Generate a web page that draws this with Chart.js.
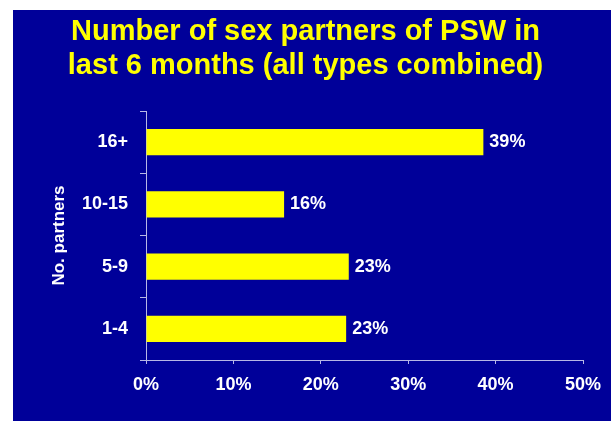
<!DOCTYPE html>
<html>
<head>
<meta charset="utf-8">
<script src="https://cdn.jsdelivr.net/npm/chart.js@4"></script>
<style>
  html, body { margin: 0; padding: 0; background: #ffffff; }
  #wrap { width: 611px; height: 421px; }
</style>
</head>
<body>
<div id="wrap"><canvas id="graphBarPartners" width="611" height="421"></canvas></div>
<script>
const categories = ['16+', '10-15', '5-9', '1-4'];
const shares = [38.6, 15.8, 23.2, 22.9];
const shareLabels = ['39%', '16%', '23%', '23%'];
const xTicks = [0, 10, 20, 30, 40, 50];
const titleLines = ['Number of sex partners of PSW in', 'last 6 months (all types combined)'];

const fontFamily = '"Liberation Sans", Arial, sans-serif';
const axisColor = '#b8b8e6';

// blue slide background
const slideBg = {
  id: 'slideBg',
  beforeDraw: chart => {
    const c = chart.ctx;
    c.save();
    c.fillStyle = '#000099';
    c.fillRect(13, 10, chart.width - 13, chart.height - 10);
    c.restore();
  }
};

// value labels right of each bar
const barValues = {
  id: 'barValues',
  afterDatasetsDraw: chart => {
    const c = chart.ctx;
    const meta = chart.getDatasetMeta(0);
    c.save();
    c.fillStyle = '#ffffff';
    c.font = `bold 18px ${fontFamily}`;
    c.textAlign = 'left';
    c.textBaseline = 'middle';
    meta.data.forEach((bar, i) => {
      c.fillText(shareLabels[i], bar.x + 6, bar.y);
    });
    c.restore();
  }
};

const ctx = document.getElementById('graphBarPartners');
let config = {
  type: 'bar',
  data: {
    labels: categories,
    datasets: [{
      label: 'Share',
      data: shares,
      backgroundColor: '#ffff00',
      borderWidth: 0,
      barPercentage: 0.42,
      categoryPercentage: 1
    }]
  },
  options: {
    indexAxis: 'y',
    responsive: false,
    animation: false,
    devicePixelRatio: 1,
    layout: {
      padding: { top: 10, left: 13, right: 13, bottom: 0 }
    },
    plugins: {
      legend: { display: false },
      tooltip: { enabled: false },
      title: {
        display: true,
        text: titleLines,
        color: '#ffff00',
        font: { family: fontFamily, size: 29, weight: 'bold', lineHeight: '34px' },
        padding: { top: 5, bottom: 28 }
      }
    },
    scales: {
      x: {
        min: 0,
        max: 50,
        afterFit: scale => {
          scale.height = 61;
          scale.paddingRight = 28;
        },
        afterBuildTicks: scale => {
          scale.ticks = xTicks.map(v => ({ value: v }));
        },
        border: { color: axisColor, width: 1 },
        grid: {
          drawOnChartArea: false,
          drawTicks: true,
          tickLength: 4,
          color: axisColor
        },
        ticks: {
          color: '#ffffff',
          padding: 10,
          font: { family: fontFamily, size: 18, weight: 'bold' },
          callback: value => `${value}%`
        }
      },
      y: {
        afterFit: scale => {
          scale.width = 133;
        },
        border: { color: axisColor, width: 1 },
        grid: {
          offset: true,
          drawOnChartArea: false,
          drawTicks: true,
          tickLength: 6,
          color: axisColor
        },
        ticks: {
          color: '#ffffff',
          padding: 12,
          font: { family: fontFamily, size: 18, weight: 'bold' }
        },
        title: {
          display: true,
          text: 'No. partners',
          color: '#ffffff',
          font: { family: fontFamily, size: 17, weight: 'bold', lineHeight: 1.2 },
          padding: { top: 36, bottom: 0 }
        }
      }
    }
  },
  plugins: [slideBg, barValues]
};
let chartPartners = new Chart(ctx, config);
</script>
</body>
</html>
